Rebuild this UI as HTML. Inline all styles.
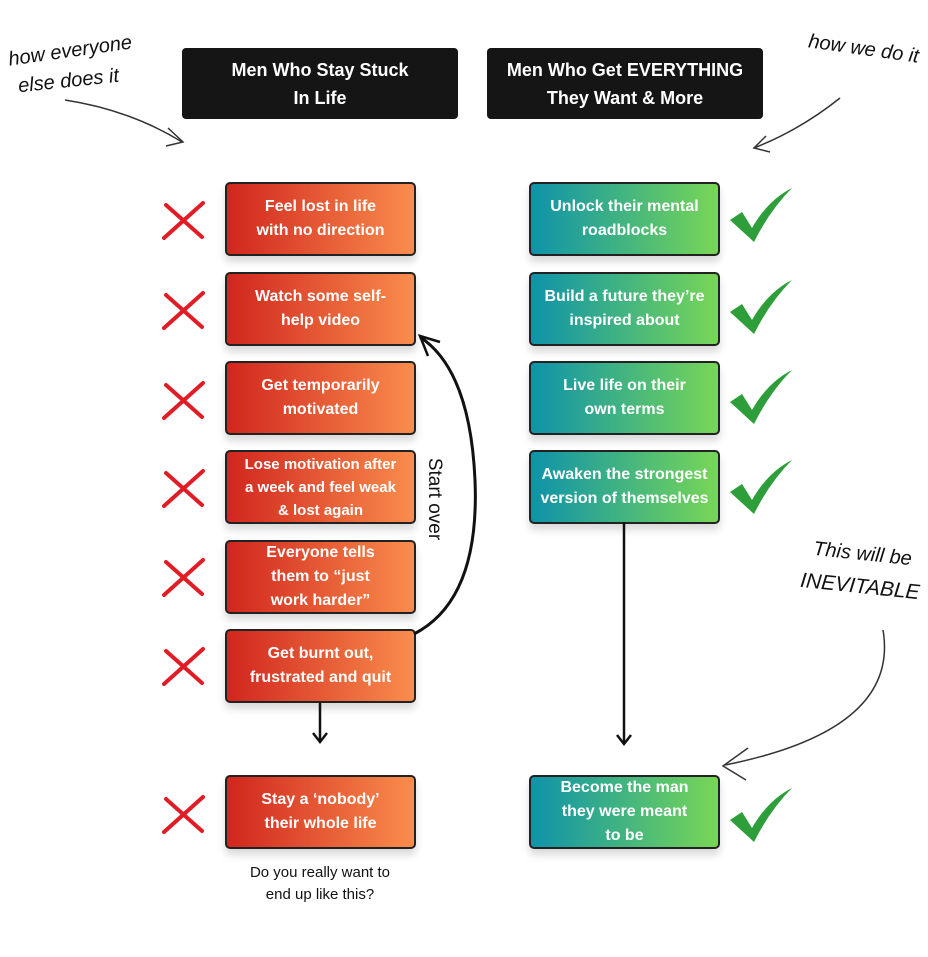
<!DOCTYPE html>
<html><head><meta charset="utf-8"><style>
body{margin:0;background:#fff;width:928px;height:957px;overflow:hidden;position:relative;font-family:"Liberation Sans",sans-serif}
.h{position:absolute;background:#151515;color:#fff;font-weight:bold;font-size:18px;text-align:center;line-height:28px;border-radius:4px;display:flex;align-items:center;justify-content:center}
.b{position:absolute;width:187px;height:70px;border:2px solid #222;border-radius:5px;color:#fff;font-weight:bold;font-size:16px;line-height:24px;text-align:center;display:flex;align-items:center;justify-content:center;box-shadow:0 6px 8px rgba(0,0,0,.15)}
.r{left:225px;background:linear-gradient(90deg,#d1261e,#f98d4c)}
.g{left:529px;background:linear-gradient(90deg,#0e93aa,#78d656)}
.hw{position:absolute;font-family:"Liberation Sans",sans-serif;font-style:italic;color:#111;font-size:20px}
</style></head><body>
<div class="h" style="left:182px;top:48px;width:276px;height:71px">Men Who Stay Stuck<br>In Life</div>
<div class="h" style="left:487px;top:48px;width:276px;height:71px">Men Who Get EVERYTHING<br>They Want &amp; More</div>

<div class="b r" style="top:182px">Feel lost in life<br>with no direction</div>
<div class="b r" style="top:272px">Watch some self-<br>help video</div>
<div class="b r" style="top:361px">Get temporarily<br>motivated</div>
<div class="b r" style="top:450px;font-size:15px;line-height:23px">Lose motivation after<br>a week and feel weak<br>&amp; lost again</div>
<div class="b r" style="top:540px">Everyone tells<br>them to “just<br>work harder”</div>
<div class="b r" style="top:629px">Get burnt out,<br>frustrated and quit</div>
<div class="b r" style="top:775px">Stay a ‘nobody’<br>their whole life</div>

<div class="b g" style="top:182px">Unlock their mental<br>roadblocks</div>
<div class="b g" style="top:272px">Build a future they’re<br>inspired about</div>
<div class="b g" style="top:361px">Live life on their<br>own terms</div>
<div class="b g" style="top:450px">Awaken the strongest<br>version of themselves</div>
<div class="b g" style="top:775px">Become the man<br>they were meant<br>to be</div>

<div style="position:absolute;left:225px;top:862px;width:190px;text-align:center;font-size:15px;line-height:22px;color:#111">Do you really want to<br>end up like this?</div>

<div class="hw" style="left:8px;top:40px;transform:rotate(-8deg)">how everyone</div>
<div class="hw" style="left:18px;top:70px;transform:rotate(-6deg)">else does it</div>
<div class="hw" style="left:808px;top:38px;transform:rotate(8deg)">how we do it</div>
<div class="hw" style="left:813px;top:543px;transform:rotate(6deg)">This will be</div>
<div class="hw" style="left:800px;top:575px;transform:rotate(6deg);font-size:21px">INEVITABLE</div>
<div style="position:absolute;left:393px;top:488px;transform:rotate(90deg);font-size:19px;color:#111;transform-origin:center">Start over</div>

<svg width="928" height="957" style="position:absolute;left:0;top:0" fill="none">
<g stroke="#333" stroke-width="1.5">
<path d="M65 100 Q130 110 182 142"/><path d="M168 128 L183 142 L166 146"/>
<path d="M840 98 Q800 130 754 148"/><path d="M766 136 L754 148 L770 152"/>
<path d="M883 630 Q900 730 725 765"/><path d="M748 748 L723 766 L746 780"/>
</g>
<g stroke="#111" stroke-width="2.5">
<path d="M320 703 V740"/><path d="M313 733 L320 742 L327 733"/>
<path d="M624 522 V742"/><path d="M617 735 L624 744 L631 735"/>
<path d="M414 634 Q480 600 475 480 Q470 370 420 337" stroke-width="3"/>
<path d="M440 342 L420 336 L428 356" stroke-width="2.5"/>
</g>
<g stroke="#e21c24" stroke-width="4" stroke-linecap="round">
<g id="x"><path d="M166 205 L202 237"/><path d="M203 203 L164 238"/></g>
<use href="#x" y="90"/><use href="#x" y="180"/><use href="#x" y="268"/><use href="#x" y="357"/><use href="#x" y="446"/><use href="#x" y="594"/>
</g>
<g fill="#2e9e3a">
<path id="c" d="M730 220 L742 212 L752 228 Q768 200 792 188 Q770 210 754 242 Z"/>
<use href="#c" y="92"/><use href="#c" y="182"/><use href="#c" y="272"/><use href="#c" y="600"/>
</g>
</svg>
</body></html>
